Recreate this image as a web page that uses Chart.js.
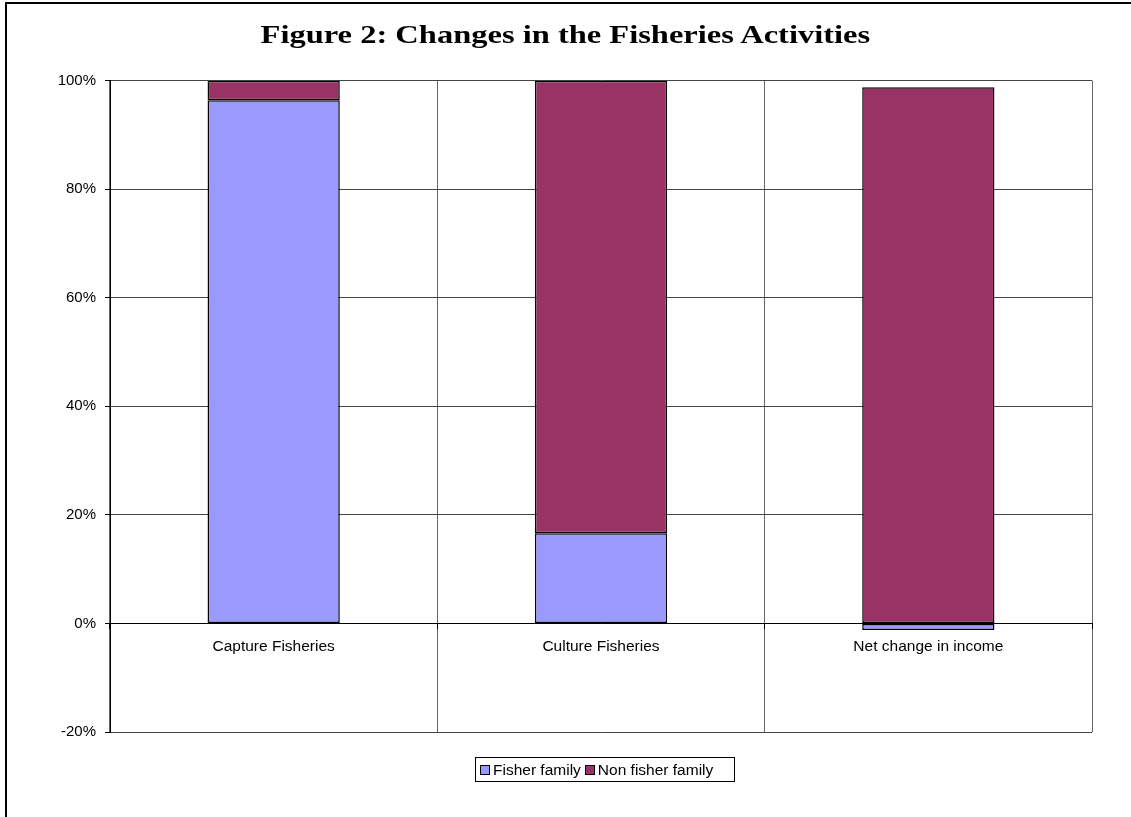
<!DOCTYPE html>
<html>
<head>
<meta charset="utf-8">
<title>Changes in the Fisheries Activities</title>
<script src="https://cdn.jsdelivr.net/npm/chart.js@4.4.0/dist/chart.umd.min.js"></script>
<style>
  html, body { margin: 0; padding: 0; background: #fff; }
  .figure {
    position: relative;
    width: 1131px;
    height: 817px;
    overflow: hidden;
    font-family: 'Liberation Sans', Arial, sans-serif;
  }
  .figure canvas { position: absolute; left: 0; top: 0; }
  .frame {
    position: absolute;
    left: 5px;
    top: 2px;
    width: 1200px;
    height: 900px;
    border-left: 2px solid #000;
    border-top: 2px solid #000;
    pointer-events: none;
  }
  .title {
    position: absolute;
    left: 0;
    top: 19px;
    width: 1131px;
    text-align: center;
    font: bold 26px/31px 'Liberation Serif', 'Times New Roman', serif;
    color: #000;
    transform: scaleX(1.25);
    transform-origin: 566px 50%;
  }
  .legend {
    position: absolute;
    left: 475px;
    top: 757px;
    width: 260px;
    height: 25px;
    border: 1px solid #000;
    box-sizing: border-box;
    display: flex;
    align-items: center;
    padding-left: 4px;
    font-size: 15.5px;
    color: #000;
    white-space: nowrap;
  }
  .legend .swatch {
    display: inline-block;
    width: 8px;
    height: 8px;
    border: 1px solid #000;
    margin-right: 3px;
  }
  .legend .item { display: flex; align-items: center; margin-right: 4px; }
</style>
</head>
<body>
<div class="figure">
  <canvas id="fishChart" width="1131" height="817"></canvas>
  <div class="frame"></div>
  <div class="title">Figure 2: Changes in the Fisheries Activities</div>
  <div class="legend" id="fishLegend"></div>
</div>

<script>
'use strict';

// ---- data ----------------------------------------------------------
const categories   = ['Capture Fisheries', 'Culture Fisheries', 'Net change in income'];
const fisherFamily = [96.4, 16.6, -1.2];
const nonFisher    = [3.6, 83.4, 98.8];
const yTicks       = [-20, 0, 20, 40, 60, 80, 100];

const seriesNames  = ['Fisher family', 'Non fisher family'];
const seriesColors = ['#9999FF', '#993366'];

const FONT = "'Liberation Sans', Arial, sans-serif";

// ---- chart ---------------------------------------------------------
const FishChart = {
  init() {
    const ctx = document.getElementById('fishChart');
    if (!ctx || typeof Chart === 'undefined') return;

    const barStyle = (i) => ({
      label: seriesNames[i],
      backgroundColor: seriesColors[i],
      borderColor: '#000',
      borderWidth: 1.5,
      borderSkipped: false,
    });

    new Chart(ctx, {
      type: 'bar',
      data: {
        labels: categories,
        datasets: [
          { ...barStyle(0), data: fisherFamily },
          { ...barStyle(1), data: nonFisher }
        ]
      },
      options: {
        responsive: false,
        animation: false,
        categoryPercentage: 0.404,
        barPercentage: 1,
        layout: { padding: { left: 0, right: 39, top: 80.7, bottom: 85 } },
        plugins: {
          legend: { display: false },
          tooltip: { enabled: false },
          title: { display: false }
        },
        scales: {
          x: {
            stacked: true,
            position: { y: 0 },          // category axis crosses at 0%
            afterFit: s => { s.height = 0; },
            grid: { color: '#666', lineWidth: 1, offset: true, tickLength: 5, tickColor: '#000' },
            border: { color: '#000', width: 1 },
            ticks: { color: '#000', font: { family: FONT, size: 15.5 }, padding: 9, maxRotation: 0 }
          },
          y: {
            stacked: true,
            min: -20,
            max: 100,
            afterFit: s => { s.width = 110; },
            afterBuildTicks: s => { s.ticks = yTicks.map(v => ({ value: v })); },
            grid: { color: '#444', lineWidth: 1, tickLength: 5, tickColor: '#000' },
            border: { color: '#000', width: 1 },
            ticks: {
              color: '#000',
              font: { family: FONT, size: 15 },
              padding: 9,
              callback: v => v + '%'
            }
          }
        }
      }
    });

    this.buildLegend();
  },

  // framed legend strip under the plot
  buildLegend() {
    const box = document.getElementById('fishLegend');
    box.innerHTML = seriesNames.map((name, i) =>
      `<span class="item"><span class="swatch" style="background:${seriesColors[i]}"></span>${name}</span>`
    ).join('');
  }
};

FishChart.init();
</script>
</body>
</html>
